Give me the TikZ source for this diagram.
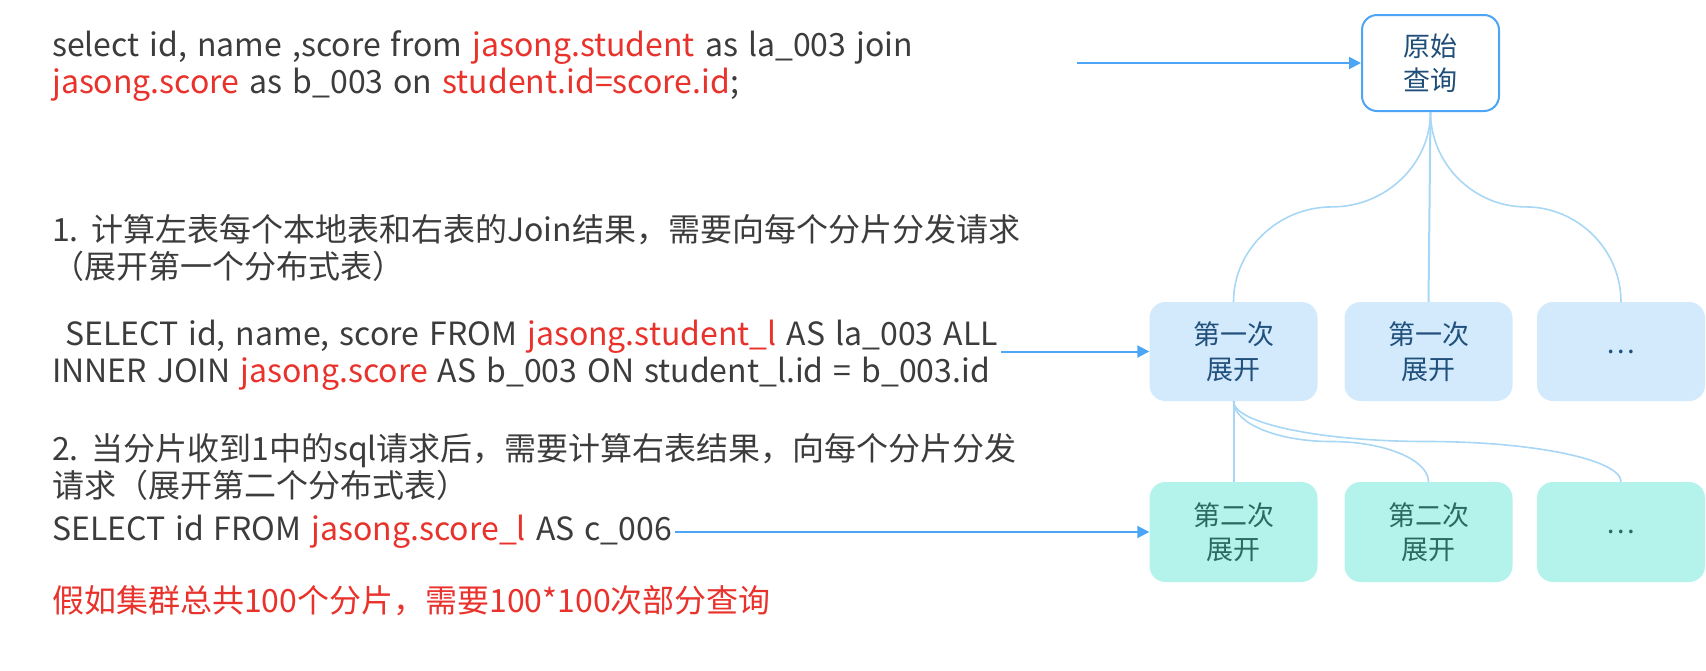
\documentclass[tikz,border=0pt]{standalone}
\usepackage{fontspec}
\setmainfont[WordSpace=1.4]{Noto Sans CJK SC}
\usetikzlibrary{arrows.meta,calc}
\definecolor{greyt}{HTML}{3C3C3C}
\definecolor{redc}{HTML}{E8322B}
\definecolor{arrowc}{HTML}{4DA6F5}
\definecolor{origt}{HTML}{1F4E79}
\definecolor{lonef}{HTML}{D2EAFC}
\definecolor{lonet}{HTML}{21507D}
\definecolor{ltwof}{HTML}{B4F3EB}
\definecolor{ltwot}{HTML}{2A6B60}
\definecolor{connc}{HTML}{A8D6F5}
\newcommand\rd[1]{\textcolor{redc}{#1}}
\begin{document}
\begin{tikzpicture}[x=1pt,y=-1pt,
  txt/.style={anchor=base west, inner sep=0pt, text=greyt, font=\fontsize{32}{37}\selectfont},
  boxtxt/.style={align=center, font=\fontsize{27}{34.5}\selectfont},
  origbox/.style={boxtxt, draw=arrowc, line width=2pt, fill=white, rounded corners=15pt,
    minimum width=137pt, minimum height=96pt, inner sep=0pt, text=origt},
  onebox/.style={boxtxt, fill=lonef, rounded corners=16pt, minimum width=168pt,
    minimum height=99pt, inner sep=0pt, text=lonet},
  twobox/.style={boxtxt, fill=ltwof, rounded corners=16pt, minimum width=168pt,
    minimum height=100pt, inner sep=0pt, text=ltwot},
  arr/.style={draw=arrowc, line width=2pt, -{Triangle[length=12pt,width=12pt]}},
  conn/.style={draw=connc, line width=1.6pt},
]
\useasboundingbox (0,0) rectangle (1706,670);
% left texts
\node[txt] (t1) at (52,56) {select id, name ,score from \rd{jasong.student} as la\_003 join};
\node[txt] (t2) at (52,93) {\rd{jasong.score} as b\_003 on \rd{student.id=score.id};};
\node[txt] (t3) at (52,241) {1. 计算左表每个本地表和右表的Join结果，需要向每个分片分发请求};
\node[txt] (t4) at (52,278) {（展开第一个分布式表）};
\node[txt] (t5) at (65,345) {SELECT id, name, score FROM \rd{jasong.student\_l} AS la\_003 ALL};
\node[txt] (t6) at (52,382) {INNER JOIN \rd{jasong.score} AS b\_003 ON student\_l.id = b\_003.id};
\node[txt] (t7) at (52,460) {2. 当分片收到1中的sql请求后，需要计算右表结果，向每个分片分发};
\node[txt] (t8) at (52,497) {请求（展开第二个分布式表）};
\node[txt] (t9) at (52,540) {SELECT id FROM \rd{jasong.score\_l} AS c\_006};
\node[txt, text=redc] (t10) at (52,612) {假如集群总共100个分片，需要100*100次部分查询};
% boxes
\node[origbox] (o) at (1430.5,63) {原始\\查询};
\node[onebox] (a) at (1233.5,351.5) {第一次\\展开};
\node[onebox] (b) at (1428.5,351.5) {第一次\\展开};
\node[onebox] (c) at (1621,351.5) {…};
\node[twobox] (d) at (1233.5,532) {第二次\\展开};
\node[twobox] (e) at (1428.5,532) {第二次\\展开};
\node[twobox] (f) at (1621,532) {…};
% arrows
\coordinate (s0) at (1077,63);
\coordinate (s1) at (1001,351.5);
\coordinate (s2) at (675,532);
\draw[arr] (s0) -- (o.west);
\draw[arr] (s1) -- (a.west);
\draw[arr] (s2) -- (d.west);
% connectors level 1
\coordinate (m1) at ($(o.south)!0.5!(a.north)$);
\coordinate (m2) at ($(o.south)!0.5!(c.north)$);
\draw[conn] (o.south) .. controls +(0,52) and +(54,0) .. (m1) .. controls +(-54,0) and +(0,-52) .. (a.north);
\draw[conn, line width=2pt] (o.south) -- (b.north);
\draw[conn] (o.south) .. controls +(0,52) and +(-52,0) .. (m2) .. controls +(52,0) and +(0,-52) .. (c.north);
% connectors level 2
\coordinate (m3) at ($(a.south)!0.5!(e.north)$);
\coordinate (m4) at ($(a.south)!0.5!(f.north)$);
\draw[conn, line width=2pt] (a.south) -- (d.north);
\draw[conn] (a.south) .. controls +(0,22) and +(-54,0) .. (m3) .. controls +(54,0) and +(0,-22) .. (e.north);
\draw[conn] (a.south) .. controls +(0,22) and +(-107,0) .. (m4) .. controls +(107,0) and +(0,-22) .. (f.north);
\end{tikzpicture}
\end{document}
